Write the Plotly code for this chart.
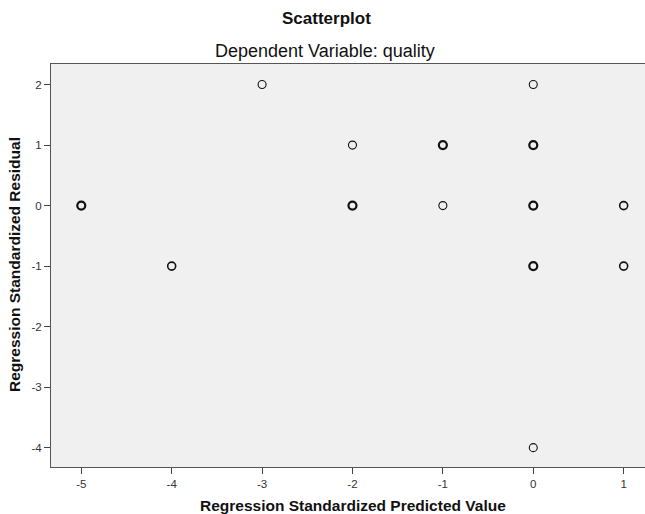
import plotly.graph_objects as go

# Data
predicted = [-5, -4, -3, -2, -2, -1, -1, 0, 0, 0, 0, 0, 1, 1]
residual = [0, -1, 2, 1, 0, 1, 0, 2, 1, 0, -1, -4, 0, -1]
overlap = [3, 2, 1, 1, 3, 3, 1, 1, 4, 5, 4, 1, 2, 2]  # apparent number of overlapping cases

x_ticks = [-5, -4, -3, -2, -1, 0, 1]
y_ticks = [-4, -3, -2, -1, 0, 1, 2]

title = "Scatterplot"
subtitle = "Dependent Variable: quality"
x_title = "Regression Standardized Predicted Value"
y_title = "Regression Standardized Residual"

W, H = 645, 514
L, R, T, B = 51, 0, 64, 47

widths = [1.1 if n == 1 else (1.6 if n == 2 else 2.2) for n in overlap]

fig = go.Figure(go.Scatter(
    x=predicted, y=residual, mode="markers",
    marker=dict(symbol="circle-open", size=8, color="#111111",
                line=dict(width=widths, color="#111111")),
    hoverinfo="x+y",
))

font = "Liberation Sans, Arial, sans-serif"
pw = W - L - R
ph = H - T - B

def px_x(p):
    return (p - L) / pw

def px_y(p):
    return 1 - (p - T) / ph

fig.update_layout(
    width=W, height=H,
    margin=dict(l=L, r=R, t=T, b=B),
    paper_bgcolor="white", plot_bgcolor="#f0f0f0",
    showlegend=False,
    font=dict(family=font, color="#222222"),
    xaxis=dict(range=[-5.335, 1.236], tickvals=x_ticks, ticktext=[str(v) for v in x_ticks],
               showgrid=False, zeroline=False, showline=True, linecolor="#555555", linewidth=1,
               mirror=True, ticks="outside", ticklen=6, tickcolor="#444444",
               tickfont=dict(size=11.5, color="#333333", family=font)),
    yaxis=dict(range=[-4.32, 2.34], tickvals=y_ticks, ticktext=[str(v) for v in y_ticks],
               showgrid=False, zeroline=False, showline=True, linecolor="#555555", linewidth=1,
               ticks="outside", ticklen=6, tickcolor="#444444",
               tickfont=dict(size=11.5, color="#333333", family=font)),
    annotations=[
        dict(text="<b>" + title + "</b>", xref="paper", yref="paper", x=px_x(326), y=px_y(18),
             xanchor="center", yanchor="middle", showarrow=False,
             font=dict(size=17, color="#111111", family=font)),
        dict(text=subtitle, xref="paper", yref="paper", x=px_x(325), y=px_y(51),
             xanchor="center", yanchor="middle", showarrow=False,
             font=dict(size=18, color="#111111", family=font)),
        dict(text="<b>" + x_title + "</b>", xref="paper", yref="paper", x=px_x(353), y=px_y(505),
             xanchor="center", yanchor="middle", showarrow=False,
             font=dict(size=15.5, color="#111111", family=font)),
        dict(text="<b>" + y_title + "</b>", xref="paper", yref="paper", x=px_x(14), y=px_y(265),
             xanchor="center", yanchor="middle", showarrow=False, textangle=-90,
             font=dict(size=15.5, color="#111111", family=font)),
    ],
)

fig.write_html("out.html", config={"displayModeBar": False},
               post_script="document.body.style.margin='0px';")
